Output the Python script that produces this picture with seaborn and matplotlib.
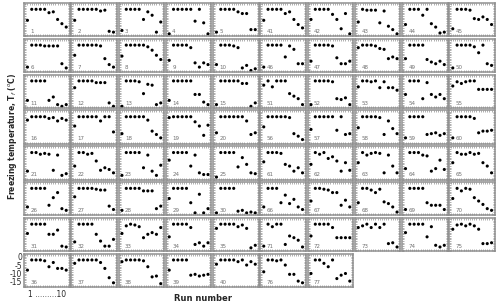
import matplotlib
matplotlib.use("Agg")
import matplotlib.pyplot as plt
from matplotlib.ticker import MultipleLocator
import seaborn as sns
import pandas as pd

runs = [1, 2, 3, 4, 5, 6, 7, 8, 9, 10]
y_ticks = [0, -5, -10, -15]
y_tick_labels = ["0", "-5", "-10", "-15"]

# freezing temperature (C) per run, panels 1-40 (left block), 5 panels per row
left_r1 = [[-8.5, -2, -2, -2, -2, -4, -3.5, -8, -10.5, -12.5],
           [-8.5, -2, -2, -2, -2, -2, -3, -2.5, -15, -15.5],
           [-14.5, -2, -2, -2, -2, -8, -3.5, -5.5, -15.5, -9.5],
           [-16.5, -2, -2, -2, -2, -2, -9, -2, -10, -16.5],
           [-15.5, -2, -2, -2, -2, -3.5, -4.5, -4.5, -14, -14]]
left_r2 = [[-15, -2, -2, -2, -2.5, -2.5, -2.5, -2.5, -13, -15.5],
           [-8, -2, -2, -2, -2, -2, -2.5, -10, -13.5, -15],
           [-8.5, -2, -2, -2, -2, -2, -3, -5, -8, -10.5],
           [-11, -2, -2, -2, -2, -3.5, -12.5, -15, -12.5, -13.5],
           [-13.5, -2, -2, -2, -2.5, -3.5, -15.5, -14, -17, -16]]
left_r3 = [[-13.5, -2, -2, -2, -2, -13.5, -11.5, -16, -17, -16],
           [-6, -2, -2, -2, -2, -3, -3, -3, -15, -17],
           [-17, -2, -2, -2, -2.5, -9.5, -4, -4.5, -16, -15],
           [-13.5, -2, -2, -2, -2, -2, -10, -10, -14.5, -16],
           [-16, -2, -2, -2, -2, -2, -3.5, -3.5, -17, -15]]
left_r4 = [[-4, -2, -2, -2, -2, -3, -2.5, -4.5, -3, -4],
           [-7.5, -2, -2, -2, -2, -2, -4.5, -2, -2, -11],
           [-12, -2, -2, -2, -2, -2, -4, -10.5, -12.5, -14.5],
           [-2.5, -2, -2, -2, -2, -2, -5, -7.5, -13, -7],
           [-11.5, -2, -2, -2, -2, -2, -2, -4.5, -12.5, -11.5]]
left_r5 = [[-13, -2, -2, -3, -2.5, -3, -12.5, -3.5, -15.5, -14.5],
           [-10, -2, -2, -3, -2.5, -7, -12.5, -11, -12, -14],
           [-15.5, -2, -2, -2, -2, -11, -3.5, -13, -15.5, -9.5],
           [-6.5, -2, -2, -2, -2, -10, -3.5, -14, -15, -15],
           [-16.5, -2, -2, -2, -2, -10.5, -5, -9, -14, -14.5]]
left_r6 = [[-13, -2, -2, -2, -2, -12, -7.5, -4.5, -14, -15],
           [-7, -2, -2, -2, -2, -2.5, -3, -3, -12.5, -14.5],
           [-15, -2, -2, -2, -2, -3.5, -3.5, -3.5, -14, -12.5],
           [-8, -2, -2, -2, -2, -10.5, -16.5, -5.5, -16.5, -14],
           [-16.5, -2, -2, -2, -2, -15.5, -15, -16.5, -16, -16.5]]
left_r7 = [[-7.5, -2, -2, -2, -2, -8, -8, -5.5, -15, -15.5],
           [-12.5, -2, -2, -2, -2, -8, -12, -15, -15, -11],
           [-7.5, -3, -2, -2.5, -3.5, -10, -8, -7, -8, -4],
           [-9.5, -2, -2, -2, -2, -4, -14, -13, -15, -13],
           [-4.5, -2, -2, -2, -2, -3.5, -2.5, -4.5, -16, -14.5]]
left_r8 = [[-8, -2, -2, -2, -2.5, -6, -3.5, -7, -7, -8],
           [-4, -2, -2, -2, -2, -2, -3.5, -7, -12.5, -15.5],
           [-3, -2, -2, -2, -2, -2.5, -6, -12, -11.5, -16],
           [-8, -2, -2, -2, -2, -11, -10.5, -11.5, -11, -10.5],
           [-4.5, -2, -2, -2, -2, -3, -2, -5, -3, -4.5]]

# panels 41-77 (right block)
right_r1 = [[-8.5, -2, -2, -2, -2, -4.5, -3.5, -8, -11, -13],
            [-8, -2, -2, -2, -2, -5, -8, -13.5, -4.5, -16.5],
            [-9.5, -2, -2.5, -2.5, -2.5, -10, -3, -12, -14, -16.5],
            [-11, -2, -2, -2, -5.5, -2, -10.5, -12.5, -16, -15.5],
            [-13.5, -2, -2, -2, -2.5, -7.5, -8, -6.5, -8, -11]]
right_r2 = [[-15, -2, -2, -2, -2, -9, -2.5, -4.5, -13, -13],
            [-11.5, -2, -2, -2, -2, -2.5, -9.5, -13, -13, -11.5],
            [-3.5, -2, -2, -2, -2.5, -4, -4.5, -10, -9, -10],
            [-10, -2, -2, -2, -2, -10.5, -12, -13, -11.5, -13.5],
            [-15.5, -2, -2, -2, -2, -3, -6.5, -2, -13, -14]]
right_r3 = [[-4.5, -2, -5.5, -2, -2, -2, -9.5, -11, -12.5, -16],
            [-16, -2, -2, -2, -2, -2.5, -12.5, -13, -12, -16],
            [-5.5, -2, -2, -2.5, -2, -6, -2.5, -6, -6, -7.5],
            [-10, -2, -2, -2, -12.5, -3, -10, -11.5, -10, -12.5],
            [-5, -2.5, -3.5, -2.5, -2, -2, -7, -7, -7, -7]]
right_r4 = [[-8, -2, -2, -2, -2, -2, -2.5, -12, -13.5, -15.5],
            [-9.5, -2, -2, -2, -2, -2, -10, -2, -12.5, -12],
            [-8.5, -2, -2, -2, -2, -2.5, -12.5, -4.5, -9, -12],
            [-14.5, -2, -2, -2, -2, -12.5, -12, -11.5, -13, -12],
            [-14.5, -2, -2, -2, -2, -3, -11.5, -10.5, -10.5, -10]]
right_r5 = [[-7.5, -2, -2, -2, -2.5, -9, -10, -13, -11, -14],
            [-9, -2, -3, -2, -5.5, -4.5, -7, -13, -8, -12.5],
            [-8, -2, -3.5, -2.5, -2, -2.5, -14, -3.5, -10, -14],
            [-11.5, -2, -2, -2, -3.5, -4, -13, -11.5, -6.5, -12],
            [-8, -2, -3, -3, -2, -3, -2.5, -8, -10, -14]]
right_r6 = [[-13, -2, -2, -2, -10.5, -6, -11, -8.5, -13, -14.5],
            [-9.5, -2, -2, -2.5, -3, -4.5, -4.5, -12, -9, -13],
            [-10.5, -2, -2, -3, -4.5, -2.5, -10, -11, -13, -16],
            [-14.5, -2, -2, -2, -2, -10.5, -12, -12, -12, -14.5],
            [-8, -2, -3.5, -2, -2.5, -7.5, -9.5, -11.5, -14, -15]]
right_r7 = [[-15, -2, -3.5, -2, -2, -14, -9, -10, -11.5, -15.5],
            [-9, -2, -2, -2, -2, -4, -10, -10, -10, -10],
            [-4, -3, -2, -4, -2, -4, -2, -13.5, -13, -15.5],
            [-7, -2, -2, -2, -2, -9.5, -3.5, -14.5, -15.5, -14.5],
            [-5, -2.5, -2, -3, -2, -3, -5, -13.5, -13.5, -13]]
right_r8 = [[-9, -2, -2, -2.5, -2, -5, -10.5, -10.5, -14.5, -15.5],
            [-10, -2, -2, -4, -6, -2, -13, -11, -10, -14.5]]

left_rows = [left_r1, left_r2, left_r3, left_r4, left_r5, left_r6, left_r7, left_r8]
right_rows = [right_r1, right_r2, right_r3, right_r4, right_r5, right_r6, right_r7, right_r8]

records = []
for block, rows, first in [(0, left_rows, 1), (1, right_rows, 41)]:
    n = first
    for r, row in enumerate(rows):
        for c, vals in enumerate(row):
            for run, t in zip(runs, vals):
                records.append({"panel": n, "row": r, "col": block * 5 + c, "run": run, "tf": t})
            n += 1
df = pd.DataFrame(records)

sns.set_style("white")
fig, axes = plt.subplots(8, 10, figsize=(5, 3.06), dpi=100)
fig.subplots_adjust(left=0.048, right=0.99, top=0.99, bottom=0.062, wspace=0.035, hspace=0.075)

frame = "#8f8f8f"
used = set()
for panel, d in df.groupby("panel"):
    r, c = d["row"].iloc[0], d["col"].iloc[0]
    used.add((r, c))
    ax = axes[r, c]
    sns.scatterplot(data=d, x="run", y="tf", ax=ax, color="black", s=5,
                    edgecolor="none", legend=False)
    ax.set_xlim(0.2, 10.8)
    ax.set_ylim(-18, 1.7)
    ax.set_xlabel("")
    ax.set_ylabel("")
    ax.xaxis.set_major_locator(MultipleLocator(1))
    ax.xaxis.set_minor_locator(MultipleLocator(0.5))
    ax.yaxis.set_major_locator(MultipleLocator(5))
    ax.yaxis.set_minor_locator(MultipleLocator(1))
    ax.tick_params(which="both", direction="in", top=True, right=True, bottom=True, left=True,
                   length=1.5, width=0.5, color=frame, labelbottom=False, labelleft=False)
    for s in ax.spines.values():
        s.set_color(frame)
        s.set_linewidth(1.1)
    ax.text(0.14, 0.07, str(panel), transform=ax.transAxes, fontsize=4,
            color="#707070", ha="left", va="bottom")

for r in range(8):
    for c in range(10):
        if (r, c) not in used:
            axes[r, c].axis("off")

# axis labels on the bottom-left panel (36)
ax36 = axes[7, 0]
ax36.set_yticks(y_ticks)
ax36.set_yticklabels(y_tick_labels)
ax36.tick_params(axis="y", labelleft=True, labelsize=5.5, pad=1.5)
ax36.text(0.5, -0.1, "1 .........10", transform=ax36.transAxes, fontsize=5.5,
          ha="center", va="top")

fig.text(0.025, 0.555, "Freezing temperature, T$_f$ ($^o$C)", rotation=90,
         fontsize=5.5, fontweight="bold", ha="center", va="center")
fig.text(0.405, 0.026, "Run number", fontsize=6, fontweight="bold",
         ha="center", va="center")

fig.savefig("out.png", dpi=100)
